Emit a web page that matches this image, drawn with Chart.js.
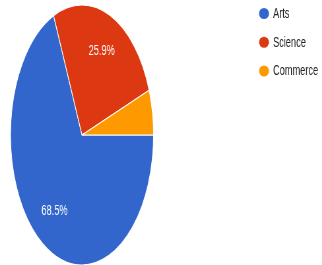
<!DOCTYPE html>
<html>
<head>
<meta charset="utf-8">
<script src="https://cdn.jsdelivr.net/npm/chart.js@4/dist/chart.umd.min.js"></script>
<style>
  html, body { margin: 0; padding: 0; background: #fff; overflow: hidden; }
  #wrap { width: 322px; height: 265px; overflow: hidden; position: relative; }
  #c { position: absolute; left: 0; top: 0; transform: scaleX(0.66); transform-origin: 0 0; }
</style>
</head>
<body>
<div id="wrap"><canvas id="c" width="488" height="265"></canvas></div>
<script>
const categories = ['Arts', 'Science', 'Commerce'];
const shares = [68.5, 25.9, 5.6];
const sliceLabels = ['68.5%', '25.9%', ''];
const colors = ['#3366cc', '#dc3912', '#ff9900'];

const SX = 0.66;                 // page-wide horizontal squeeze
const PIE_CX = 82 / SX, PIE_CY = 135;
const PIE_RX = 71.5 / SX, PIE_RY = 130;

const ellipsePie = {
  id: 'ellipsePie',
  beforeDatasetsDraw(chart) {
    const arc = chart.getDatasetMeta(0).data[0];
    const ctx = chart.ctx;
    ctx.save();
    ctx.translate(PIE_CX, PIE_CY);
    ctx.scale(PIE_RX / arc.outerRadius, PIE_RY / arc.outerRadius);
    ctx.translate(-arc.x, -arc.y);
  },
  afterDatasetsDraw(chart) {
    const ctx = chart.ctx;
    ctx.restore();
    const meta = chart.getDatasetMeta(0);
    ctx.save();
    ctx.fillStyle = '#ffffff';
    ctx.font = '14px "Liberation Sans", Arial, sans-serif';
    ctx.textAlign = 'center';
    ctx.textBaseline = 'middle';
    meta.data.forEach((a, i) => {
      const t = sliceLabels[i];
      if (!t) return;
      const mid = (a.startAngle + a.endAngle) / 2;
      const r = 0.7;
      const x = PIE_CX + Math.cos(mid) * r * PIE_RX;
      const y = PIE_CY + Math.sin(mid) * r * PIE_RY;
      ctx.fillText(t, x, y);
    });
    ctx.restore();
  },
  afterDraw(chart) {
    const ctx = chart.ctx;
    ctx.save();
    ctx.font = '14px "Liberation Sans", Arial, sans-serif';
    ctx.textAlign = 'left';
    ctx.textBaseline = 'middle';
    chart.data.labels.forEach((lab, i) => {
      const y = 13.5 + i * 28.75;
      ctx.beginPath();
      ctx.ellipse(264 / SX, y, 5 / SX, 5.5, 0, 0, Math.PI * 2);
      ctx.fillStyle = chart.data.datasets[0].backgroundColor[i];
      ctx.fill();
      ctx.fillStyle = '#222222';
      ctx.fillText(lab, 273 / SX, y + 0.5);
    });
    ctx.restore();
  }
};

new Chart(document.getElementById('c'), {
  type: 'pie',
  data: {
    labels: categories,
    datasets: [{
      data: shares,
      backgroundColor: colors,
      borderColor: '#ffffff',
      borderWidth: 1.2
    }]
  },
  options: {
    responsive: false,
    animation: false,
    rotation: 90,
    layout: { padding: { left: 0, right: 228, top: 5, bottom: 0 } },
    plugins: {
      legend: { display: false },
      tooltip: { enabled: false }
    }
  },
  plugins: [ellipsePie]
});
</script>
</body>
</html>
